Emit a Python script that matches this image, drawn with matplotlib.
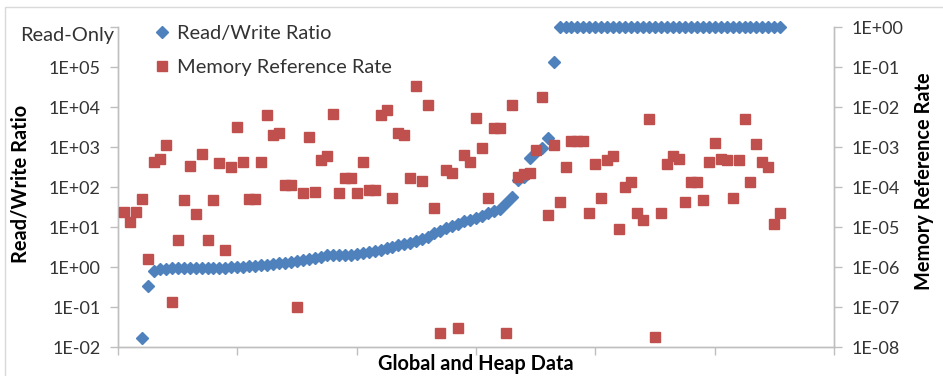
import numpy as np
import matplotlib
matplotlib.use("Agg")
import matplotlib.pyplot as plt
from matplotlib.lines import Line2D
from matplotlib.patches import Rectangle

plt.rcParams['font.family'] = ['Lato', 'DejaVu Sans']

# ---------------- data ----------------
item_index = list(range(1, 112))

nan = float('nan')
rw_ratio = [
    nan, nan, nan, 0.017, 0.34, 0.81, 0.89, 0.91, 0.93, 0.93,
    0.93, 0.93, 0.93, 0.93, 0.95, 0.95, 0.95, 0.95, 0.98, 0.98,
    1.0, 1.05, 1.07, 1.1, 1.12, 1.17, 1.23, 1.29, 1.35, 1.41,
    1.5, 1.58, 1.7, 1.82, 1.95, 2.04, 2.0, 2.0, 2.04, 2.09,
    2.19, 2.34, 2.51, 2.69, 2.95, 3.24, 3.47, 3.72, 3.98, 4.37,
    4.9, 5.75, 6.9, 7.9, 9.3, 10.7, 12.0, 13.8, 15.1, 16.6,
    19.0, 22.9, 25.7, 28.2, 40.0, 56.0, 151.0, 174.0, 525.0, 760.0,
    930.0, 1660.0, 1.35e5, 1e6, 1e6, 1e6, 1e6, 1e6, 1e6, 1e6,
    1e6, 1e6, 1e6, 1e6, 1e6, 1e6, 1e6, 1e6, 1e6, 1e6,
    1e6, 1e6, 1e6, 1e6, 1e6, 1e6, 1e6, 1e6, 1e6, 1e6,
    1e6, 1e6, 1e6, 1e6, 1e6, 1e6, 1e6, 1e6, 1e6, 1e6,
    1e6,
]

mem_rate = [
    2.4e-5, 1.35e-5, 2.4e-5, 4.9e-5, 1.6e-6, 4.3e-4, 5.0e-4, 1.1e-3, 1.35e-7, 4.7e-6,
    4.7e-5, 3.3e-4, 2.1e-5, 6.6e-4, 4.7e-6, 4.7e-5, 3.9e-4, 2.6e-6, 3.2e-4, 3.1e-3,
    4.1e-4, 4.9e-5, 4.9e-5, 4.3e-4, 6.3e-3, 2.0e-3, 2.2e-3, 1.12e-4, 1.12e-4, 1.0e-7,
    6.9e-5, 1.8e-3, 7.6e-5, 4.6e-4, 5.8e-4, 6.6e-3, 6.9e-5, 1.66e-4, 1.66e-4, 6.9e-5,
    4.3e-4, 8.3e-5, 8.3e-5, 6.3e-3, 8.3e-3, 5.2e-5, 2.3e-3, 2.0e-3, 1.7e-4, 3.3e-2,
    1.4e-4, 1.12e-2, 2.95e-5, 2.3e-8, 2.6e-4, 2.3e-4, 2.95e-8, 6.3e-4, 4.1e-4, 5.4e-3,
    9.3e-4, 5.2e-5, 2.95e-3, 2.95e-3, 2.2e-8, 1.12e-2, 1.8e-4, 2.1e-4, 2.3e-4, 8.3e-4,
    1.74e-2, 2.0e-5, 1.12e-3, 4.1e-5, 3.1e-4, 1.45e-3, 1.45e-3, 1.45e-3, 2.3e-5, 3.7e-4,
    5.2e-5, 4.6e-4, 6.0e-4, 8.9e-6, 1.0e-4, 1.35e-4, 2.3e-5, 1.5e-5, 5.0e-3, 1.8e-8,
    2.3e-5, 3.7e-4, 6.0e-4, 5.0e-4, 4.1e-5, 1.35e-4, 1.35e-4, 4.7e-5, 4.3e-4, 1.23e-3,
    4.9e-4, 4.6e-4, 5.2e-5, 4.6e-4, 5.1e-3, 1.35e-4, 1.17e-3, 4.2e-4, 3.2e-4, 1.17e-5,
    2.3e-5,
]

series_labels = ["Read/Write Ratio", "Memory Reference Rate"]
left_ticks = [1e-2, 1e-1, 1e0, 1e1, 1e2, 1e3, 1e4, 1e5, 1e6]
left_tick_labels = ["1E-02", "1E-01", "1E+00", "1E+01", "1E+02", "1E+03",
                    "1E+04", "1E+05", "Read-Only"]
right_ticks = [1e-8, 1e-7, 1e-6, 1e-5, 1e-4, 1e-3, 1e-2, 1e-1, 1e0]
right_tick_labels = ["1E-08", "1E-07", "1E-06", "1E-05", "1E-04", "1E-03",
                     "1E-02", "1E-01", "1E+00"]
x_ticks = [0, 20, 40, 60, 80, 100, 120]
x_label = "Global and Heap Data"
y_label_left = "Read/Write Ratio"
y_label_right = "Memory Reference Rate"

# ---------------- style ----------------
W, H = 943, 376
BLUE = '#4F81BD'
RED = '#C0504D'
GRID = '#BFBFBF'
TXT = '#333333'
FS = 13.0      # numeric tick labels
FS_T = 14.4    # words (legend, titles, Read-Only)
MS_D = 6.0
MS_S = 7.6

fig = plt.figure(figsize=(W / 100, H / 100), dpi=100)
fig.patches.append(Rectangle((5 / W, -0.05), 1.0, 1 - 7 / H + 0.05,
                             transform=fig.transFigure, fill=False,
                             edgecolor='#D9D9D9', lw=1.0))

ax = fig.add_axes([118 / W, 1 - 347 / H, (834 - 118) / W, (347 - 27) / H])
ax2 = ax.twinx()

ax.plot(item_index, rw_ratio, ls='none', marker='D', ms=MS_D,
        color=BLUE, mec=BLUE, zorder=3, clip_on=False)
ax2.plot(item_index, mem_rate, ls='none', marker='s', ms=MS_S,
         color=RED, mec=RED, zorder=3, clip_on=False)

ax.set_xlim(x_ticks[0], x_ticks[-1])
ax.set_yscale('log')
ax.set_ylim(left_ticks[0], left_ticks[-1])
ax2.set_yscale('log')
ax2.set_ylim(right_ticks[0], right_ticks[-1])

ax.set_xticks(x_ticks)
ax.set_xticklabels([])
ax.set_yticks(left_ticks)
ax.set_yticklabels(left_tick_labels[:-1] + [""])
ax.yaxis.set_minor_locator(matplotlib.ticker.NullLocator())
ax2.set_yticks(right_ticks)
ax2.set_yticklabels(right_tick_labels)
ax2.yaxis.set_minor_locator(matplotlib.ticker.NullLocator())

for a in (ax, ax2):
    a.spines['top'].set_visible(False)
    for s in ('left', 'right', 'bottom'):
        a.spines[s].set_color(GRID)
        a.spines[s].set_linewidth(1.0)
    a.tick_params(axis='both', which='major', direction='out', length=5.5,
                  width=1.0, color=GRID, labelsize=FS, labelcolor=TXT, pad=7)
    a.set_facecolor('none')

ax.annotate(left_tick_labels[-1], xy=(0, left_ticks[-1]),
            xycoords=('axes fraction', 'data'), xytext=(-4, -9),
            textcoords='offset pixels', ha='right', va='center',
            fontsize=FS_T, color=TXT)

fig.text(21 / W, 1 - 184 / H, y_label_left, rotation=90, ha='center',
         va='center', fontsize=FS_T, fontweight='bold', color='black')
fig.text(924 / W, 1 - 181 / H, y_label_right, rotation=90, ha='center',
         va='center', fontsize=FS_T, fontweight='bold', color='black')
fig.text(476 / W, 1 - 364 / H, x_label, ha='center', va='center',
         fontsize=FS_T, fontweight='bold', color='black')

handles = [Line2D([], [], ls='none', marker='D', ms=MS_D, color=BLUE),
           Line2D([], [], ls='none', marker='s', ms=MS_S, color=RED)]
ax2.legend(handles, series_labels, loc='upper left',
           bbox_to_anchor=(153 / W, 1 - 24.5 / H), bbox_transform=fig.transFigure,
           frameon=False, borderpad=0, borderaxespad=0, handlelength=0.9,
           handletextpad=0.3, labelspacing=0.85, fontsize=FS_T,
           labelcolor=TXT)

fig.savefig('out.png', dpi=100)
